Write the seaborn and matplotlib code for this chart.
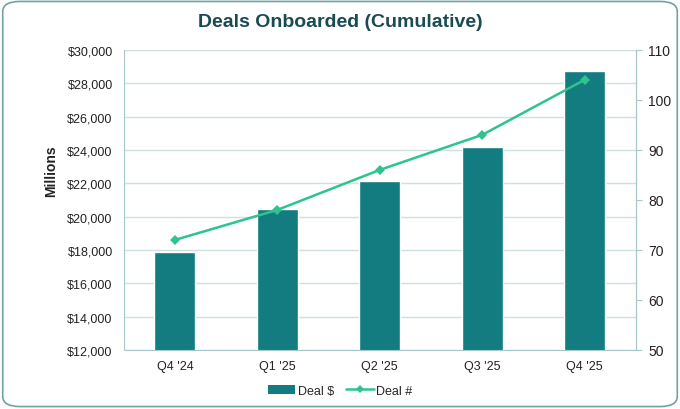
import numpy as np
import pandas as pd
import matplotlib
matplotlib.use('Agg')
import matplotlib.pyplot as plt
import seaborn as sns
from matplotlib.patches import FancyBboxPatch, Patch
from matplotlib.lines import Line2D
from matplotlib.ticker import FuncFormatter, MultipleLocator

# ===== 数据 =====
quarters = ["Q4 '24", "Q1 '25", "Q2 '25", "Q3 '25", "Q4 '25"]
deal_dollars = [17850, 20450, 22130, 24170, 28750]   # Millions
deal_counts = [72, 78, 86, 93, 104]

# ===== 样式 =====
sns.set_style('white')
plt.rcParams['font.family'] = ['Liberation Sans', 'DejaVu Sans']

bar_color = '#127C80'
line_color = '#2DC48D'
grid_color = '#CFE0E0'
spine_color = '#A6C8CC'
title_color = '#1B4B52'
text_color = '#222222'

df = pd.DataFrame({'quarter': quarters, 'dollars': deal_dollars,
                   'count': deal_counts, 'pos': np.arange(len(quarters))})

fig = plt.figure(figsize=(6.8, 4.1), dpi=100)
frame = FancyBboxPatch((0.004, 0.006), 0.992, 0.988,
                       boxstyle='round,pad=0,rounding_size=0.025',
                       transform=fig.transFigure, facecolor='white',
                       edgecolor='#6FA3A6', linewidth=1.2, zorder=-10)
fig.patches.append(frame)

ax = fig.add_axes([0.182, 0.144, 0.753, 0.732])
ax.set_facecolor('none')
sns.barplot(data=df, x='quarter', y='dollars', color=bar_color,
            width=0.4, saturation=1, ax=ax, zorder=2)
ax.set_ylim(12000, 30000)
ax.yaxis.set_major_locator(MultipleLocator(2000))
ax.yaxis.set_major_formatter(FuncFormatter(lambda v, p: f'${v:,.0f}'))
ax.grid(axis='y', color=grid_color, linewidth=1, zorder=0)
ax.set_axisbelow(True)
ax.set_xlabel('')
ax.set_ylabel('Millions', fontsize=10, fontweight='bold', color=text_color)
ax.yaxis.set_label_coords(-0.128, 0.60)
ax.tick_params(axis='y', length=0, labelsize=9, colors=text_color, pad=8)
ax.tick_params(axis='x', length=0, labelsize=9, colors=text_color, pad=7)
ax.spines['top'].set_visible(False)
for s in ['left', 'bottom', 'right']:
    ax.spines[s].set_color(spine_color)

ax2 = ax.twinx()
sns.lineplot(data=df, x='pos', y='count', color=line_color, linewidth=1.8,
             marker='D', markersize=5, markeredgewidth=0, ax=ax2, zorder=3)
ax2.set_ylim(50, 110)
ax2.yaxis.set_major_locator(MultipleLocator(10))
ax2.set_ylabel('')
ax2.set_xlabel('')
ax2.tick_params(axis='y', length=4, direction='out', color=spine_color,
                labelsize=10, labelcolor=text_color, pad=5)
for s in ['top', 'left', 'bottom']:
    ax2.spines[s].set_visible(False)
ax2.spines['right'].set_color(spine_color)
ax.set_xlim(-0.5, len(quarters) - 0.5)

fig.text(0.5, 0.944, 'Deals Onboarded (Cumulative)', ha='center', va='center',
         fontsize=14, fontweight='bold', color=title_color)

handles = [Patch(facecolor=bar_color, edgecolor='none', label='Deal $'),
           Line2D([0], [0], color=line_color, linewidth=1.8, marker='D',
                  markersize=4, markeredgewidth=0, label='Deal #')]
fig.legend(handles=handles, loc='center', bbox_to_anchor=(0.5, 0.045), ncol=2,
           frameon=False, fontsize=9, handlelength=2.2, columnspacing=1.0,
           handletextpad=0.2)

fig.savefig('out.png', dpi=100)
